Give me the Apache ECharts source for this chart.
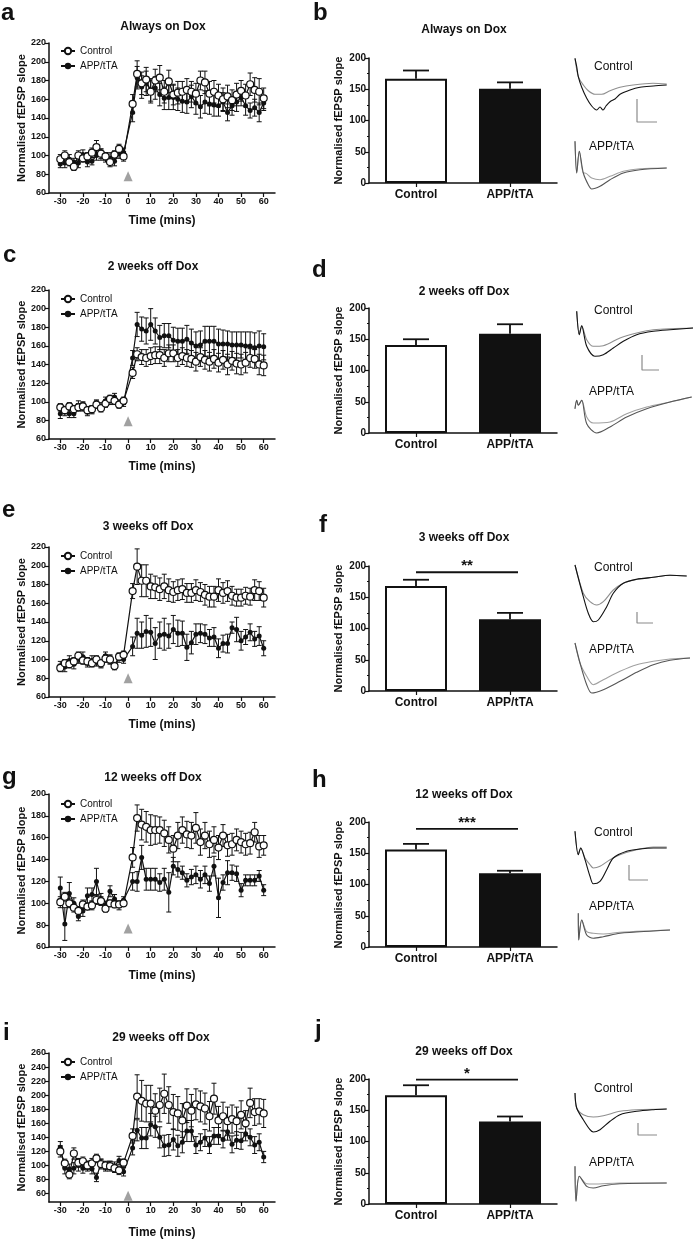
<!DOCTYPE html>
<html><head><meta charset="utf-8">
<script src="https://cdn.jsdelivr.net/npm/echarts@6/dist/echarts.min.js"></script>
<style>html,body{margin:0;padding:0;background:#fff}#c{width:695px;height:1240px}</style>
</head><body><div id="c"></div>
<script>
// ---------------- DATA ----------------
const TIMES = [-30,-28,-26,-24,-22,-20,-18,-16,-14,-12,-10,-8,-6,-4,-2,2,4,6,8,10,12,14,16,18,20,22,24,26,28,30,32,34,36,38,40,42,44,46,48,50,52,54,56,58,60];
const X_TICKS = [-30,-20,-10,0,10,20,30,40,50,60];
const Y_TICKS_I = [60,80,100,120,140,160,180,200,220,240,260];
const TITLES_LEFT = ['Always on Dox','2 weeks off Dox','3 weeks off Dox','12 weeks off Dox','29 weeks off Dox'];
const LETTERS_LEFT = ['a','c','e','g','i'];
const LETTERS_RIGHT = ['b','d','f','h','j'];
const SERIES_NAMES = ['Control','APP/tTA'];
const BAR_CATEGORIES = ['Control','APP/tTA'];

// panel a
const A_CTRL = [96,100,93,88,100,97,99,103,109,102,99,93,101,107,99,155,187,177,181,168,180,183,168,179,165,167,168,170,168,166,180,178,166,168,164,160,163,159,165,169,164,176,170,168,161];
const A_CTRL_ERR = [5,5,4,4,5,4,4,5,7,5,4,5,4,5,5,10,14,12,13,12,12,13,12,12,11,12,11,12,11,11,10,12,13,12,12,12,12,11,12,11,12,12,13,14,11];
const A_APP = [91,92,96,93,92,101,93,94,100,101,98,97,94,102,103,146,183,173,177,170,172,165,161,162,162,160,158,157,163,156,152,157,155,154,153,157,146,153,157,162,153,148,151,146,156];
const A_APP_ERR = [4,5,5,4,5,5,5,4,5,6,5,6,5,5,5,10,12,12,13,12,12,12,12,13,13,12,12,12,12,12,12,12,11,12,11,10,9,10,10,9,10,8,9,10,8];
// panel c
const C_CTRL = [94,91,95,92,94,95,91,92,97,93,98,103,101,97,101,131,151,148,147,149,150,150,147,152,152,147,149,147,146,143,148,145,143,146,142,145,140,144,141,140,142,147,146,140,139];
const C_CTRL_ERR = [4,4,4,4,4,4,4,4,4,4,4,4,4,4,4,6,7,8,9,9,9,9,9,9,9,9,9,9,9,10,10,10,10,10,10,10,11,10,11,11,11,10,10,11,11];
const C_APP = [87,90,87,87,96,95,89,91,98,95,101,101,105,98,99,147,183,178,176,183,176,169,171,171,166,165,165,167,163,160,161,165,165,165,162,162,162,161,161,161,160,160,158,160,159];
const C_APP_ERR = [5,5,4,4,5,5,4,4,4,4,4,4,4,4,4,8,13,13,14,17,14,13,13,13,14,14,14,15,15,15,15,16,16,16,16,15,14,14,14,14,15,15,16,16,14];
// panel e
const E_CTRL = [91,96,95,98,104,99,98,96,100,96,101,100,93,103,105,173,199,184,184,178,177,175,178,174,172,174,175,171,171,174,172,169,167,167,174,171,173,168,166,166,168,167,174,173,166];
const E_CTRL_ERR = [4,4,4,4,4,4,4,4,4,4,4,4,3,4,4,8,19,17,17,13,12,12,13,12,11,11,11,10,10,11,10,11,11,11,12,11,11,10,9,9,9,9,11,10,10];
const E_APP = [93,92,99,95,101,103,97,99,98,95,104,100,93,101,100,114,128,126,130,129,117,126,127,125,132,128,128,113,118,127,128,127,123,124,112,117,117,134,132,120,124,129,122,125,112];
const E_APP_ERR = [5,5,5,5,5,5,5,5,5,4,4,5,4,4,4,10,16,14,17,15,17,14,17,13,15,14,13,14,12,11,10,10,9,10,10,9,10,6,13,10,8,9,8,10,8];
// panel g
const G_CTRL = [101,106,100,96,93,99,97,98,103,102,95,100,99,99,100,142,178,172,170,167,167,167,164,158,150,162,167,163,162,169,156,162,154,158,151,162,153,154,158,156,154,155,165,152,153];
const G_CTRL_ERR = [5,4,4,4,4,4,3,4,4,4,3,3,3,3,3,9,12,14,14,14,13,12,12,12,12,12,12,12,12,14,12,12,12,12,11,10,10,10,10,10,10,10,9,10,9];
const G_APP = [114,81,109,100,88,93,107,108,120,104,98,111,104,98,103,120,120,142,122,122,122,119,122,110,134,131,128,121,124,126,122,126,118,134,105,119,128,128,127,112,121,121,121,125,112];
const G_APP_ERR = [10,15,10,5,4,5,7,6,12,5,4,5,4,4,3,8,9,11,10,10,10,8,10,18,8,7,6,6,7,8,8,8,7,9,18,7,11,7,7,6,5,5,5,5,5];
// panel i
const I_CTRL = [120,103,87,117,104,106,100,103,110,102,100,99,96,93,104,142,198,192,188,188,178,186,202,186,176,174,164,185,178,187,184,181,170,195,164,170,163,166,163,172,160,189,176,177,174];
const I_CTRL_ERR = [8,6,6,8,6,6,6,7,6,7,6,7,6,6,5,10,31,29,26,26,24,24,28,26,25,24,24,24,23,22,22,22,21,22,20,20,20,20,20,20,18,21,19,18,20];
const I_APP = [126,96,95,96,100,96,99,95,83,103,98,100,99,107,91,125,150,139,139,158,155,140,128,129,137,128,133,149,149,129,133,139,129,142,142,137,148,130,136,135,145,140,129,133,112];
const I_APP_ERR = [8,8,7,8,8,7,7,7,6,6,6,6,6,6,6,10,15,15,15,16,15,15,15,15,15,15,15,15,15,12,12,12,12,12,12,12,12,12,12,12,10,12,12,12,8];

const STIM_TIME = 0;
const STIM_LEVEL = [78,79,80,77,57];

// bar panels b, d, f, h, j
const B_VALUES = [167,151], B_ERR = [13,10];
const D_VALUES = [141,159], D_ERR = [9,15];
const F_VALUES = [168,115], F_ERR = [10,10];
const H_VALUES = [156,118], H_ERR = [9,4];
const J_VALUES = [174,132], J_ERR = [16,8];
const SIG_LABELS = [null,null,'**','***','*'];
const SIG_LEVELS = [null,null,190,189,199];

// example traces: [time, amplitude]
const B_CTRL_POST = [[0,26.7],[1.7,18.3],[3.3,8.3],[6.7,-2.3],[11.7,-13.3],[16.7,-21],[21.7,-25],[25,-22],[28,-25],[31,-21],[35,-16.7],[40,-14],[45,-9.3],[55,-5],[65,-2.3],[78.3,-1],[91.7,0]];
const B_CTRL_PRE = [[0,26.7],[3.3,8.3],[8.3,0],[13.3,-5.7],[20,-9.3],[26.7,-9.3],[35,-5.7],[45,-2.3],[58,0],[78,1.7],[91.7,1]];
const B_APP_POST = [[0,26.7],[1.7,-5],[4.3,16.7],[8.3,-5],[13.3,-16.7],[16.7,-21],[25,-18.3],[35,-11.7],[48.3,-5],[65,-1.7],[91.7,0]];
const B_APP_PRE = [[0,26.7],[1.7,-5],[4.3,16.7],[8.3,-5],[10,-5],[16.7,-10],[25,-11.7],[35,-8.3],[48.3,-3.3],[65,-0.7],[91.7,0]];
const D_CTRL_POST = [[1.7,16.7],[4.3,-6.7],[6.7,2.3],[11.7,-18.3],[20,-28.3],[28.3,-26.7],[38.3,-20],[48.3,-13.3],[61.7,-6.7],[78.3,-3.3],[95,-1.7],[118,0]];
const D_CTRL_PRE = [[1.7,16.7],[4.3,-6.7],[6.7,2.3],[11.7,-11.7],[18.3,-18.3],[28.3,-17.7],[45,-10],[61.7,-5],[78.3,-1.7],[118,0]];
const D_APP_POST = [[0,-11.7],[1.7,-3.3],[3.3,-8.3],[6.7,-3.3],[11.7,-26.7],[21.7,-36],[35,-30],[51.7,-20],[71.7,-11.7],[95,-5],[116.7,0]];
const D_APP_PRE = [[0,-11.7],[1.7,-3.3],[3.3,-8.3],[6.7,-3.3],[11.7,-20],[18.3,-26],[35,-25],[51.7,-16.7],[71.7,-10],[95,-5],[116.7,0]];
const F_CTRL_POST = [[0,11],[8.3,-20.7],[13.3,-37.3],[18.3,-45.7],[23.3,-44],[31.7,-30.7],[38.3,-17.3],[48.3,-7.3],[61.7,-3.3],[78.3,-1.3],[95,0.7],[111.7,0]];
const F_CTRL_PRE = [[0,11],[8.3,-17.3],[15,-25.7],[21.7,-29],[28.3,-25.7],[38.3,-14],[48.3,-7.3],[61.7,-3.3],[78.3,-1.3],[95,0.7],[111.7,0]];
const F_APP_PRE = [[0,15],[5,-5],[11.7,-18.3],[18.3,-26.7],[28.3,-21.7],[45,-13.3],[61.7,-6.7],[78.3,-3.3],[95,-1],[115,0]];
const F_APP_POST = [[0,15],[5,-5],[11.7,-26.7],[16.7,-35],[28.3,-31.7],[45,-23.3],[61.7,-14.3],[78.3,-6.7],[95,-2.3],[115,0]];
const H_CTRL_POST = [[0,16.7],[3.3,-6.7],[5.7,0],[10,-11.7],[15,-28.3],[18.3,-35.7],[25,-33.3],[31.7,-21.7],[38.3,-10],[51.7,-3.3],[65,-1],[78.3,0],[91.7,0]];
const H_CTRL_PRE = [[0,16.7],[3.3,-6.7],[5.7,0],[10,-10],[15,-16.7],[18.3,-20],[25,-18.3],[35,-11.7],[45,-6.7],[61.7,-1.7],[78.3,1],[91.7,1]];
const H_APP_POST = [[3.3,16.7],[3.7,-10],[6.7,10],[11.7,-5],[18.3,-8.3],[28.3,-6.7],[45,-3.3],[78.3,-1],[95,0]];
const H_APP_PRE = [[3.3,16.7],[3.7,-10],[6.7,10],[11.7,-1.7],[18.3,-3.3],[28.3,-4],[45,-2.3],[78.3,-0.7],[95,0]];
const J_CTRL_POST = [[0,16],[1.7,1],[8.3,-10.7],[15,-20.7],[18.3,-23],[25,-20.7],[35,-12.3],[45,-5.7],[61.7,-2.3],[78.3,-0.7],[91.7,0]];
const J_CTRL_PRE = [[0,16],[1.7,1],[8.3,-5.7],[18.3,-8],[28.3,-6.7],[45,-2.3],[61.7,-0.7],[91.7,0]];
const J_APP_POST = [[0,16.7],[1,-18.3],[4.3,6.7],[11.7,-3.3],[18.3,-5],[28.3,-2.7],[45,-0.7],[91.7,0]];
const J_APP_PRE = [[0,16.7],[1,-18.3],[4.3,6.7],[11.7,-0.7],[18.3,-1],[45,0],[91.7,0]];
// scale bars (time, amplitude)
const B_SCALE = [[62,-14],[62,-37],[82,-37]];
const D_SCALE = [[67,-27],[67,-42],[84,-42]];
const F_SCALE = [[62,-36],[62,-47],[78,-47]];
const H_SCALE = [[54,-17],[54,-32],[73,-32]];
const J_SCALE = [[63,-14],[63,-26],[82,-26]];

// ---------------- LAYOUT ----------------
const FONT = '"Liberation Sans", Arial, Helvetica, sans-serif';
const INK = '#111';
const LINE_PANELS = [
  {ctrl:A_CTRL, ctrlErr:A_CTRL_ERR, app:A_APP, appErr:A_APP_ERR, top:43, height:150, ymin:60, ymax:220, nameGap:22, legendY:52, titleX:163, titleY:27, letterX:1, letterY:13},
  {ctrl:C_CTRL, ctrlErr:C_CTRL_ERR, app:C_APP, appErr:C_APP_ERR, top:290, height:149, ymin:60, ymax:220, nameGap:22, legendY:300, titleX:153, titleY:267, letterX:3, letterY:255},
  {ctrl:E_CTRL, ctrlErr:E_CTRL_ERR, app:E_APP, appErr:E_APP_ERR, top:547, height:150, ymin:60, ymax:220, nameGap:22, legendY:557, titleX:148, titleY:527, letterX:2, letterY:510},
  {ctrl:G_CTRL, ctrlErr:G_CTRL_ERR, app:G_APP, appErr:G_APP_ERR, top:794, height:153, ymin:60, ymax:200, nameGap:23, legendY:805, titleX:153, titleY:778, letterX:2, letterY:777},
  {ctrl:I_CTRL, ctrlErr:I_CTRL_ERR, app:I_APP, appErr:I_APP_ERR, top:1053, height:149, ymin:48, ymax:260, nameGap:25, legendY:1063, titleX:161, titleY:1038, letterX:3, letterY:1033, yTicks:Y_TICKS_I}
];
const BAR_PANELS = [
  {vals:B_VALUES, err:B_ERR, top:58, titleY:30, letterX:313, letterY:13, traces:[[B_CTRL_PRE,B_CTRL_POST],[B_APP_PRE,B_APP_POST]], scale:B_SCALE, base:[85,168], lab:[67,147]},
  {vals:D_VALUES, err:D_ERR, top:308, titleY:292, letterX:312, letterY:270, traces:[[D_CTRL_PRE,D_CTRL_POST],[D_APP_PRE,D_APP_POST]], scale:D_SCALE, base:[328,397], lab:[311,392]},
  {vals:F_VALUES, err:F_ERR, top:566, titleY:538, letterX:319, letterY:525, traces:[[F_CTRL_PRE,F_CTRL_POST],[F_APP_PRE,F_APP_POST]], scale:F_SCALE, base:[576,658], lab:[568,650]},
  {vals:H_VALUES, err:H_ERR, top:822, titleY:795, letterX:312, letterY:780, traces:[[H_CTRL_PRE,H_CTRL_POST],[H_APP_PRE,H_APP_POST]], scale:H_SCALE, base:[848,930], lab:[833,907]},
  {vals:J_VALUES, err:J_ERR, top:1079, titleY:1052, letterX:315, letterY:1030, traces:[[J_CTRL_PRE,J_CTRL_POST],[J_APP_PRE,J_APP_POST]], scale:J_SCALE, base:[1109,1183], lab:[1089,1163]}
];

const grid = [], xAxis = [], yAxis = [], series = [], legend = [], graphic = [];

function txt(x, y, text, size, weight, align) {
  graphic.push({type:'text', x:x, y:y, silent:true, style:{text:text, font:(weight||'normal')+' '+size+'px '+FONT, fill:INK, align:align||'left', verticalAlign:'middle', textAlign:align||'left', textVerticalAlign:'middle'}});
}

function errRender(params, api) {
  const x = api.value(0), y = api.value(1), e = api.value(2);
  const p1 = api.coord([x, y + e]), p2 = api.coord([x, y - e]);
  const st = {stroke: INK, lineWidth: 1};
  return {type:'group', children:[
    {type:'line', shape:{x1:p1[0], y1:p1[1], x2:p2[0], y2:p2[1]}, style:st},
    {type:'line', shape:{x1:p1[0]-2.5, y1:p1[1], x2:p1[0]+2.5, y2:p1[1]}, style:st},
    {type:'line', shape:{x1:p2[0]-2.5, y1:p2[1], x2:p2[0]+2.5, y2:p2[1]}, style:st}
  ]};
}
function barErrRender(params, api) {
  const x = api.value(0), y = api.value(1), e = api.value(2);
  const p1 = api.coord([x, y]), p2 = api.coord([x, y + e]);
  const st = {stroke: INK, lineWidth: 1.8};
  return {type:'group', children:[
    {type:'line', shape:{x1:p1[0], y1:p1[1], x2:p2[0], y2:p2[1]}, style:st},
    {type:'line', shape:{x1:p2[0]-13, y1:p2[1], x2:p2[0]+13, y2:p2[1]}, style:st}
  ]};
}
function sigRender(params, api) {
  const lvl = api.value(2);
  const p1 = api.coord([api.value(0), lvl]), p2 = api.coord([api.value(1), lvl]);
  return {type:'group', children:[
    {type:'line', shape:{x1:p1[0], y1:p1[1], x2:p2[0]+8, y2:p2[1]}, style:{stroke:INK, lineWidth:1.8}}
  ]};
}

const axisLineStyle = {color: INK, width: 1.5};

function addGrid(g) { grid.push(g); return grid.length - 1; }

LINE_PANELS.forEach((p, k) => {
  const gi = addGrid({left:49, width:226, top:p.top, height:p.height});
  xAxis.push({gridIndex:gi, type:'value', min:-35, max:65,
    axisLine:{show:true, onZero:false, lineStyle:axisLineStyle},
    axisTick:{show:true, customValues:X_TICKS, length:4, lineStyle:{color:INK, width:1.2}},
    axisLabel:{customValues:X_TICKS, fontSize:9, fontWeight:'bold', color:INK, fontFamily:FONT, margin:4},
    splitLine:{show:false},
    name:'Time (mins)', nameLocation:'middle', nameGap:p.nameGap,
    nameTextStyle:{fontSize:12, fontWeight:'bold', color:INK, fontFamily:FONT}});
  const ya = {gridIndex:gi, type:'value', min:p.ymin, max:p.ymax,
    axisLine:{show:true, onZero:false, lineStyle:axisLineStyle},
    axisTick:{show:true, length:4, lineStyle:{color:INK, width:1.2}},
    axisLabel:{fontSize:9, fontWeight:'bold', color:INK, fontFamily:FONT, margin:3},
    splitLine:{show:false},
    name:'Normalised fEPSP slope', nameLocation:'middle', nameGap:21, nameRotate:90,
    nameTextStyle:{fontSize:11, fontWeight:'bold', color:INK, fontFamily:FONT}};
  if (p.yTicks) { ya.axisTick.customValues = p.yTicks; ya.axisLabel.customValues = p.yTicks; }
  else { ya.interval = 20; }
  yAxis.push(ya);
  series.push({type:'custom', name:'ctrlErr', xAxisIndex:gi, yAxisIndex:gi, silent:true, z:2, renderItem:errRender,
    data: TIMES.map((t,i)=>[t, p.ctrl[i], p.ctrlErr[i]])});
  series.push({type:'custom', name:'appErr', xAxisIndex:gi, yAxisIndex:gi, silent:true, z:2, renderItem:errRender,
    data: TIMES.map((t,i)=>[t, p.app[i], p.appErr[i]])});
  series.push({type:'line', name:SERIES_NAMES[1], xAxisIndex:gi, yAxisIndex:gi, z:3,
    data: TIMES.map((t,i)=>[t, p.app[i]]), symbol:'circle', symbolSize:5,
    itemStyle:{color:INK}, lineStyle:{color:INK, width:1.2}});
  series.push({type:'line', name:SERIES_NAMES[0], xAxisIndex:gi, yAxisIndex:gi, z:4,
    data: TIMES.map((t,i)=>[t, p.ctrl[i]]), symbol:'circle', symbolSize:7,
    itemStyle:{color:'#fff', borderColor:INK, borderWidth:1.2}, lineStyle:{color:INK, width:1.2}});
  series.push({type:'scatter', name:'stim', xAxisIndex:gi, yAxisIndex:gi, z:1, silent:true,
    data:[[STIM_TIME, STIM_LEVEL[k]]], symbol:'triangle', symbolSize:[9,10], itemStyle:{color:'#8a8a8a'}});
  legend.push({data:SERIES_NAMES, orient:'vertical', left:60, top:p.legendY-6, itemGap:5, itemWidth:14, itemHeight:8,
    padding:0, selectedMode:false, textStyle:{fontSize:10, color:INK, fontFamily:FONT}});
  txt(p.titleX, p.titleY, TITLES_LEFT[k], 12, 'bold', 'center');
  txt(p.letterX, p.letterY, LETTERS_LEFT[k], 24, 'bold', 'left');
});

BAR_PANELS.forEach((p, q) => {
  const gi = addGrid({left:369, width:188, top:p.top, height:125});
  xAxis.push({gridIndex:gi, type:'category', data:BAR_CATEGORIES,
    axisLine:{show:true, lineStyle:axisLineStyle},
    axisTick:{show:true, alignWithLabel:true, length:4, lineStyle:{color:INK, width:1.2}},
    axisLabel:{fontSize:12, fontWeight:'bold', color:INK, fontFamily:FONT, margin:6}});
  yAxis.push({gridIndex:gi, type:'value', min:0, max:200, interval:50,
    axisLine:{show:true, lineStyle:axisLineStyle},
    axisTick:{show:true, length:4, lineStyle:{color:INK, width:1.2}},
    minorTick:{show:true, splitNumber:2, length:2, lineStyle:{color:INK, width:1}},
    axisLabel:{fontSize:10, fontWeight:'bold', color:INK, fontFamily:FONT, margin:3},
    splitLine:{show:false},
    name:'Normalised fEPSP slope', nameLocation:'middle', nameGap:25, nameRotate:90,
    nameTextStyle:{fontSize:11, fontWeight:'bold', color:INK, fontFamily:FONT}});
  series.push({type:'bar', name:'bars'+q, xAxisIndex:gi, yAxisIndex:gi, barWidth:62, z:2,
    data: p.vals.map((v,i)=>({value:v, itemStyle: i===0 ? {color:'#fff', borderColor:INK, borderWidth:2} : {color:INK, borderColor:INK, borderWidth:2}}))});
  series.push({type:'custom', name:'barErr'+q, xAxisIndex:gi, yAxisIndex:gi, silent:true, z:3, renderItem:barErrRender,
    data: p.vals.map((v,i)=>[i, v, p.err[i]])});
  if (SIG_LABELS[q]) {
    series.push({type:'custom', name:'sig'+q, xAxisIndex:gi, yAxisIndex:gi, silent:true, z:3, renderItem:sigRender,
      data:[[0, 1, SIG_LEVELS[q]]]});
    txt(464, 0, '', 1, 'normal', 'center');
    graphic.pop();
    series.push({type:'custom', name:'sigLabel'+q, xAxisIndex:gi, yAxisIndex:gi, silent:true, z:3,
      data:[[0, 1, SIG_LEVELS[q]]],
      renderItem:(params, api) => {
        const a = api.coord([api.value(0), api.value(2)]), b = api.coord([api.value(1), api.value(2)]);
        return {type:'text', x:(a[0]+b[0])/2 + 4, y:a[1] - 6,
          style:{text:SIG_LABELS[q], font:'bold 15px '+FONT, fill:INK, align:'center', verticalAlign:'middle'}};
      }});
  }
  txt(464, p.titleY, TITLES_LEFT[q], 12, 'bold', 'center');
  txt(p.letterX, p.letterY, LETTERS_RIGHT[q], 24, 'bold', 'left');
  // traces
  const colors = [['#8f8f8f', INK], ['#a0a0a0', '#555']];
  [0,1].forEach(g => {
    const ti = addGrid({left:575, width:120, top:p.base[g]-30, height:80});
    xAxis.push({gridIndex:ti, type:'value', min:0, max:120, show:false});
    yAxis.push({gridIndex:ti, type:'value', min:-50, max:30, show:false});
    p.traces[g].forEach((tr, j) => {
      series.push({type:'line', name:'trace'+q+g+j, xAxisIndex:ti, yAxisIndex:ti, data:tr, showSymbol:false, symbol:'none',
        smooth:0.3, silent:true, lineStyle:{color:colors[g][j], width:1.1}});
    });
    if (g === 0) {
      series.push({type:'line', name:'scale'+q, xAxisIndex:ti, yAxisIndex:ti, data:p.scale, showSymbol:false, symbol:'none',
        silent:true, lineStyle:{color:'#8a8a8a', width:1.2}});
    }
  });
  txt(594, p.lab[0], 'Control', 12, 'normal', 'left');
  txt(589, p.lab[1], 'APP/tTA', 12, 'normal', 'left');
});

const chart = echarts.init(document.getElementById('c'), null, {renderer:'canvas'});
chart.setOption({
  backgroundColor:'#fff', animation:false,
  textStyle:{fontFamily:FONT},
  grid, xAxis, yAxis, series, legend, graphic
});
</script></body></html>
